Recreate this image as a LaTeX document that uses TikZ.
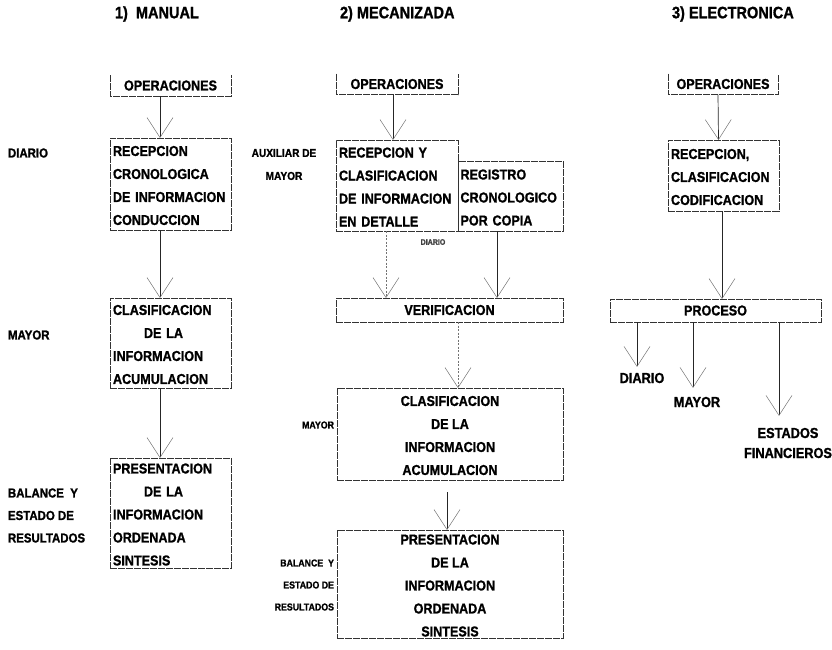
\documentclass[tikz,border=0pt]{standalone}
\usepackage{fontspec}
\setmainfont{Liberation Sans}[FakeStretch=0.88, FakeBold=1.2, UprightFont={* Bold}, BoldFont={* Bold}]
\usetikzlibrary{arrows.meta}
% strut that lowers the first line of a boxed text block slightly
\newcommand\firstline{\rule{0pt}{13pt}}

\begin{document}
\begin{tikzpicture}[x=1pt,y=-1pt,
  lbl/.style={inner sep=0pt, outer sep=0pt, text=black,
    font=\fontsize{14.3}{23}\selectfont},
  head/.style={lbl, anchor=west, font=\fontsize{16.5}{20}\selectfont},
  box/.style={lbl, draw=black!80, line width=0.6pt, dash pattern=on 7pt off 1pt},
  opbox/.style={lbl, minimum height=21pt},
  sidelbl/.style={lbl, anchor=west, align=left,
    font=\fontsize{13}{22.5}\selectfont},
  auxlbl/.style={lbl, align=center, font=\fontsize{11.5}{23}\selectfont},
  smalllbl/.style={lbl, anchor=east, align=right,
    font=\fontsize{10}{22}\selectfont},
  tinylbl/.style={lbl, text=black!75, font=\fontsize{8}{10}\selectfont},
  outlbl/.style={lbl, align=center, font=\fontsize{14.5}{20}\selectfont},
  edge/.style={draw=black!80, line width=0.6pt, dash pattern=on 7pt off 1pt},
  arr/.style={draw=black!85, line width=0.7pt,
    -{Straight Barb[length=20pt,width=26pt,line width=0.5pt,color=black!55]}},
  faint/.style={arr, draw=black!55, dash pattern=on 2pt off 1.5pt}
]
\useasboundingbox (0,0) rectangle (832,649);

% column headings
\node[head] (h1) at (115,14) {1)\ \ MANUAL};
\node[head] (h2) at (340,14) {2)\ MECANIZADA};
\node[head] (h3) at (672,14) {3) ELECTRONICA};

% ---------- 1) manual ----------
\node[opbox, minimum width=121pt] (o1) at (170.5,85.5) {OPERACIONES};
\draw[edge] (o1.north west) -- (o1.south west) -- (o1.south east) -- (o1.north east);
\node[box, minimum width=121pt, minimum height=92pt, text width=115pt, align=left]
  (r1) at (170.5,184) {\firstline RECEPCION\\CRONOLOGICA\\DE INFORMACION\\CONDUCCION};
\node[box, minimum width=121pt, minimum height=90pt, text width=115pt, align=left]
  (c1) at (170.5,343) {\firstline CLASIFICACION\\\hspace*{31pt}DE LA\\INFORMACION\\ACUMULACION};
\node[box, minimum width=121pt, minimum height=110pt, text width=115pt, align=left]
  (p1) at (170.5,513) {\firstline PRESENTACION\\\hspace*{31pt}DE LA\\INFORMACION\\ORDENADA\\SINTESIS};

\node[sidelbl] (l1a) at (8,153) {DIARIO};
\node[sidelbl] (l1b) at (8,335) {MAYOR};
\node[sidelbl] (l1c) at (8,515.5) {BALANCE\ \ Y\\ESTADO DE\\RESULTADOS};

\draw[arr] ([xshift=-10.5pt]o1.south) -- ([xshift=-10.5pt]r1.north);
\draw[arr] ([xshift=-10.5pt]r1.south) -- ([xshift=-10.5pt]c1.north);
\draw[arr] ([xshift=-10.5pt]c1.south) -- ([xshift=-10.5pt]p1.north);

% ---------- 2) mecanizada ----------
\node[opbox, minimum width=122pt] (o2) at (397,84) {OPERACIONES};
\draw[edge] (o2.north west) -- (o2.south west) -- (o2.south east) -- (o2.north east);
\node[box, minimum width=122pt, minimum height=91pt, text width=116pt, align=left]
  (r2) at (397,185.5) {\firstline RECEPCION Y\\CLASIFICACION\\DE INFORMACION\\EN DETALLE};
\node[box, minimum width=105pt, minimum height=70pt, text width=100pt, align=left]
  (g2) at (510.5,196) {\firstline REGISTRO\\CRONOLOGICO\\POR COPIA};
\node[box, minimum width=227pt, minimum height=24pt] (v2) at (449.5,310) {VERIFICACION};
\node[box, minimum width=226pt, minimum height=92pt, align=center]
  (c2) at (450,434) {\firstline CLASIFICACION\\DE LA\\INFORMACION\\ACUMULACION};
\node[box, minimum width=226pt, minimum height=108pt, align=center]
  (p2) at (450,584) {\firstline PRESENTACION\\DE LA\\INFORMACION\\ORDENADA\\SINTESIS};

\node[auxlbl] (aux) at (284,164.5) {AUXILIAR DE\\MAYOR};
\node[tinylbl] (dia2) at (433,242) {DIARIO};
\node[smalllbl] (my2) at (334,425) {MAYOR};
\node[smalllbl] (bal2) at (334,585) {BALANCE\ \ Y\\ESTADO DE\\RESULTADOS};

\draw[arr] ([xshift=-4pt]o2.south) -- ([xshift=-4pt]r2.north);
\draw[faint] ([xshift=-11pt]r2.south) -- ([xshift=-63.5pt]v2.north);
\draw[arr] ([xshift=-13.5pt]g2.south) -- ([xshift=47.5pt]v2.north);
\draw[faint] ([xshift=8.5pt]v2.south) -- ([xshift=8pt]c2.north);
\draw[arr, shorten <=12pt] ([xshift=-3pt]c2.south) -- ([xshift=-3pt]p2.north);

% ---------- 3) electronica ----------
\node[opbox, minimum width=110pt] (o3) at (723,84) {OPERACIONES};
\draw[edge] (o3.north west) -- (o3.south west) -- (o3.south east) -- (o3.north east);
\node[box, minimum width=111pt, minimum height=71pt, text width=105pt, align=left]
  (r3) at (723.5,175.5) {\firstline RECEPCION,\\CLASIFICACION\\CODIFICACION};
\node[box, minimum width=211pt, minimum height=23pt] (pr3) at (715.5,310.5) {PROCESO};

\node[outlbl] (d3) at (642,378) {DIARIO};
\node[outlbl] (m3) at (697,402) {MAYOR};
\node[outlbl] (e3) at (788,443) {ESTADOS\\FINANCIEROS};

\draw[arr] ([xshift=-5pt]o3.south) -- ([xshift=-5pt]r3.north);
\draw[arr] ([xshift=-1.5pt]r3.south) -- ([xshift=6.5pt]pr3.north);
\draw[arr] ([xshift=-78.5pt]pr3.south) -- ([xshift=-5pt,yshift=6pt]d3.north);
\draw[arr] ([xshift=-22.5pt]pr3.south) -- ([xshift=-4pt,yshift=9pt]m3.north);
\draw[arr] ([xshift=63.5pt]pr3.south) -- ([xshift=-9pt,yshift=12pt]e3.north);
\end{tikzpicture}
\end{document}
